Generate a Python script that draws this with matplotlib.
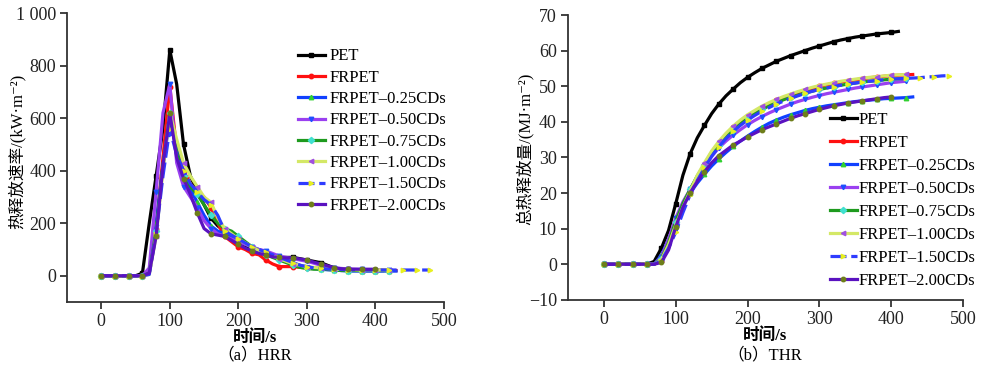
import matplotlib
matplotlib.use("Agg")
import matplotlib.pyplot as plt
import numpy as np

plt.rcParams['font.family'] = ['Liberation Serif', 'Noto Sans CJK SC', 'DejaVu Sans']
plt.rcParams['axes.unicode_minus'] = True

# 数据：时间步长 10 s，从 0 s 开始
step = 10
labels = ['PET', 'FRPET', 'FRPET–0.25CDs', 'FRPET–0.50CDs', 'FRPET–0.75CDs',
          'FRPET–1.00CDs', 'FRPET–1.50CDs', 'FRPET–2.00CDs']

# 热释放速率 HRR (kW/m2)
hrr_pet = [0, 0, 0, 0, 0, 0, 10, 200, 380, 560, 860, 730, 500, 380, 320, 270, 220, 190, 170, 160,
           130, 115, 100, 90, 80, 75, 70, 70, 70, 65, 60, 55, 50, 40, 30, 25, 25, 22, 20, 20, 20, 20]
hrr_frpet = [0, 0, 0, 0, 0, 0, 0, 20, 180, 450, 720, 480, 400, 350, 320, 300, 260, 200, 150, 130,
             110, 100, 85, 80, 60, 45, 35, 35, 35, 32, 30, 30, 28, 27, 25, 25, 24, 23, 22, 22, 21, 21, 20, 20]
hrr_025 = [0, 0, 0, 0, 0, 0, 0, 10, 200, 420, 600, 480, 380, 330, 280, 230, 190, 170, 160, 145,
           130, 120, 110, 100, 90, 80, 70, 60, 50, 40, 32, 28, 25, 23, 22, 20, 18, 18, 18, 18, 18, 18, 18, 18]
hrr_050 = [0, 0, 0, 0, 0, 0, 0, 30, 320, 620, 730, 430, 340, 300, 260, 210, 180, 160, 150, 140,
           130, 120, 110, 100, 95, 85, 75, 70, 65, 60, 55, 48, 40, 35, 30, 28, 26, 25, 24, 23, 22, 22, 21]
hrr_075 = [0, 0, 0, 0, 0, 0, 0, 10, 170, 420, 620, 470, 380, 340, 310, 270, 230, 200, 180, 170,
           150, 130, 110, 95, 80, 70, 60, 50, 40, 32, 28, 25, 25, 24, 22, 20, 20, 20, 20, 20, 20, 20, 20]
hrr_100 = [0, 0, 0, 0, 0, 0, 0, 5, 150, 400, 620, 520, 430, 380, 340, 300, 280, 220, 180, 160,
           140, 125, 110, 95, 85, 75, 65, 55, 45, 40, 35, 32, 30, 28, 26, 25, 24, 23, 22, 22, 22, 22, 22]
hrr_150 = [0, 0, 0, 0, 0, 0, 0, 5, 160, 380, 560, 460, 400, 350, 320, 290, 270, 230, 170, 155,
           140, 125, 110, 100, 90, 80, 70, 60, 50, 40, 35, 30, 28, 26, 25, 24, 23, 23, 22, 22,
           22, 22, 22, 22, 22, 22, 22, 22, 22]
hrr_200 = [0, 0, 0, 0, 0, 0, 0, 10, 150, 420, 620, 450, 370, 310, 240, 180, 160, 155, 150, 135,
           120, 105, 95, 85, 80, 72, 70, 68, 68, 64, 60, 52, 45, 38, 30, 27, 25, 25, 25, 25, 25]

# 总热释放量 THR (MJ/m2)
thr_pet = [0, 0, 0, 0, 0, 0, 0, 0.8, 4.5, 9.5, 17, 25, 31, 35.5, 39, 42.3, 45, 47.3, 49.2, 51,
           52.5, 53.8, 55, 56, 57, 57.8, 58.6, 59.3, 60, 60.7, 61.3, 61.9, 62.5, 63, 63.4, 63.8,
           64.1, 64.4, 64.7, 64.9, 65.1, 65.4]
thr_frpet = [0, 0, 0, 0, 0, 0, 0, 0, 1.0, 5, 11.5, 16.5, 20.5, 24.5, 28, 31.5, 34, 36.5, 38.5, 40.2,
             41.5, 42.8, 44, 45, 46, 46.8, 47.5, 48.2, 48.8, 49.4, 50, 50.4, 50.8, 51.2, 51.5, 51.8,
             52.1, 52.4, 52.6, 52.8, 53, 53.1, 53.2, 53.3]
thr_025 = [0, 0, 0, 0, 0, 0, 0, 0, 2.5, 7, 12, 16.5, 20, 22.8, 25.3, 27.6, 29.6, 31.4, 33.1, 34.6,
           36, 37.3, 38.5, 39.6, 40.5, 41.3, 42, 42.6, 43.2, 43.7, 44.1, 44.5, 44.8, 45.1, 45.4, 45.7,
           45.9, 46.1, 46.3, 46.5, 46.6, 46.7, 46.8, 47]
thr_050 = [0, 0, 0, 0, 0, 0, 0, 0, 2, 7, 13, 17.5, 21, 24.5, 27.5, 30.3, 32.7, 34.6, 36.3, 37.8,
           39.2, 40.4, 41.5, 42.5, 43.4, 44.2, 45, 45.7, 46.3, 46.9, 47.4, 47.9, 48.3, 48.7, 49.1,
           49.5, 49.8, 50.1, 50.4, 50.7, 51, 51.2, 51.4]
thr_075 = [0, 0, 0, 0, 0, 0, 0, 0, 1.5, 6, 12, 17, 21, 24.8, 28, 31, 33.5, 35.8, 37.8, 39.5,
           41, 42.3, 43.5, 44.5, 45.4, 46.2, 46.9, 47.5, 48.1, 48.6, 49.1, 49.5, 49.9, 50.3, 50.6,
           50.9, 51.2, 51.4, 51.6, 51.8, 52, 52.1, 52.2]
thr_100 = [0, 0, 0, 0, 0, 0, 0, 0, 1.2, 5.5, 11, 16, 20.5, 25, 28.5, 31.8, 34.5, 36.8, 38.8, 40.5,
           42, 43.2, 44.4, 45.4, 46.3, 47.1, 47.8, 48.5, 49.1, 49.7, 50.2, 50.6, 51, 51.4, 51.7,
           52, 52.3, 52.5, 52.7, 52.9, 53.1, 53.2, 53.3]
thr_150 = [0, 0, 0, 0, 0, 0, 0, 0, 1.0, 4.5, 9, 14.5, 19.5, 23.5, 27, 30.3, 33, 35.3, 37.3, 39,
           40.5, 41.8, 43, 44, 45, 45.8, 46.6, 47.3, 48, 48.6, 49.1, 49.5, 49.9, 50.3, 50.6, 50.9,
           51.2, 51.4, 51.6, 51.8, 52, 52.1, 52.2, 52.3, 52.4, 52.6, 52.7, 52.9, 53]
thr_200 = [0, 0, 0, 0, 0, 0, 0, 0, 0.5, 4, 10.5, 16, 20, 23.3, 26, 28.5, 30.5, 32, 33.5, 34.6,
           35.8, 36.8, 37.8, 38.6, 39.4, 40.2, 41, 41.7, 42.3, 42.9, 43.5, 44, 44.5, 44.9, 45.3,
           45.6, 45.9, 46.2, 46.5, 46.8, 47]

hrr_all = [hrr_pet, hrr_frpet, hrr_025, hrr_050, hrr_075, hrr_100, hrr_150, hrr_200]
thr_all = [thr_pet, thr_frpet, thr_025, thr_050, thr_075, thr_100, thr_150, thr_200]

# 样式：线色、标记、标记色、线型
line_colors = ['#000000', '#FF1010', '#1040FF', '#9A40F0', '#1E9A1E', '#D4E866', '#2E3CFF', '#5A12C0']
markers = ['s', 'o', '^', 'v', 'D', '<', '>', 'o']
marker_colors = ['#000000', '#FF1010', '#30D030', '#1E50FF', '#40E0D0', '#A050E0', '#E8F020', '#6E7E1A']
line_styles = ['-', '-', '-', '-', '-', '-', (0, (5, 1.5)), '-']


def draw_panel(ax, data, ylim, yticks, yticklabels, ylabel, ylab_pos):
    for vals, lab, lc, mk, mc, ls in zip(data, labels, line_colors, markers, marker_colors, line_styles):
        t = np.arange(len(vals)) * step
        ax.plot(t, vals, linestyle=ls, color=lc, linewidth=2.3, marker=mk, markevery=2,
                markersize=3.2, markerfacecolor=mc, markeredgecolor=mc, label=lab)
    ax.set_xlim(-50, 500)
    ax.set_ylim(*ylim)
    ax.set_xticks([0, 100, 200, 300, 400, 500])
    ax.set_yticks(yticks)
    ax.set_yticklabels(yticklabels)
    ax.spines['top'].set_visible(False)
    ax.spines['right'].set_visible(False)
    for s in ['left', 'bottom']:
        ax.spines[s].set_color('#333333')
        ax.spines[s].set_linewidth(1.3)
    ax.tick_params(direction='out', length=5, width=1.2, labelsize=13, colors='#222222', pad=3)
    ax.set_xlabel('时间/s', fontsize=12, fontweight='bold', labelpad=0)
    ax.set_ylabel(ylabel, fontsize=12)
    ax.yaxis.set_label_coords(*ylab_pos)


fig = plt.figure(figsize=(10, 3.67), dpi=100)
ax1 = fig.add_axes([0.067, 0.177, 0.377, 0.787])
ax2 = fig.add_axes([0.568, 0.183, 0.395, 0.776])

draw_panel(ax1, hrr_all, (-100, 1000), [0, 200, 400, 600, 800, 1000],
           ['0', '200', '400', '600', '800', '1 000'], '热释放速率/(kW·m⁻²)', (-0.11, 0.52))
draw_panel(ax2, thr_all, (-10, 70), [-10, 0, 10, 20, 30, 40, 50, 60, 70],
           ['−10', '0', '10', '20', '30', '40', '50', '60', '70'], '总热释放量/(MJ·m⁻²)', (-0.088, 0.53))

ax1.legend(loc='upper left', bbox_to_anchor=(0.298, 0.868), bbox_transform=fig.transFigure,
           frameon=False, fontsize=12, handlelength=1.6, handletextpad=0.3, labelspacing=0.32,
           borderaxespad=0, borderpad=0)
ax2.legend(loc='upper left', bbox_to_anchor=(0.830, 0.695), bbox_transform=fig.transFigure,
           frameon=False, fontsize=12, handlelength=1.6, handletextpad=0.1, labelspacing=0.42,
           borderaxespad=0, borderpad=0)

fig.text(0.255, 0.032, '（a）HRR', ha='center', va='center', fontsize=12)
fig.text(0.765, 0.032, '（b）THR', ha='center', va='center', fontsize=12)

fig.savefig('out.png', dpi=100)
